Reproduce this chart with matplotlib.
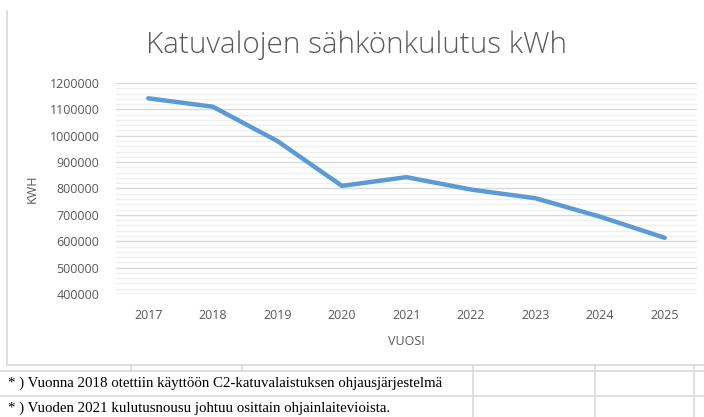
import matplotlib
matplotlib.use("Agg")
from matplotlib import pyplot as plt
from matplotlib.ticker import MultipleLocator, FuncFormatter

# data
YEARS = ['2017', '2018', '2019', '2020', '2021', '2022', '2023', '2024', '2025']
KWH = [1142000, 1110000, 980000, 810000, 843000, 796000, 763000, 693000, 613000]
TITLE = 'Katuvalojen sähkönkulutus kWh'
NOTES = [
    '* ) Vuonna 2018 otettiin käyttöön C2-katuvalaistuksen ohjausjärjestelmä',
    '* ) Vuoden 2021 kulutusnousu johtuu osittain ohjainlaitevioista.',
]

W, H = 704, 417
TXT = '#595959'
GRID = '#D9D9D9'

plt.rcParams['font.family'] = ['Open Sans', 'DejaVu Sans']

fig = plt.figure(figsize=(W / 100, H / 100), dpi=100)

# overlay in pixel coordinates for the chart frame and the sheet grid below it
bg = fig.add_axes([0, 0, 1, 1])
bg.set_xlim(0, W)
bg.set_ylim(H, 0)
bg.axis('off')
bg.plot([6.5, 6.5], [11, 365], color=GRID, lw=1.2)
bg.plot([6.5, W], [365, 365], color=GRID, lw=1.2)
bg.plot([0, W], [370.5, 370.5], color=GRID, lw=1.2)
bg.plot([0, W], [395.5, 395.5], color=GRID, lw=1.2)
for x in (130.5, 241.5):
    bg.plot([x, x], [365, 370.5], color=GRID, lw=1.2)
for x in (472.5, 594.5, 693.5):
    bg.plot([x, x], [365, H], color=GRID, lw=1.2)
for i, note in enumerate(NOTES):
    bg.text(8, 383 + 25.5 * i, note, family='Liberation Serif', fontsize=10.7,
            color='black', va='center', ha='left')

ax = fig.add_axes([116 / W, 1 - 294 / H, (697 - 116) / W, (294 - 83) / H])
x = range(len(YEARS))
ax.plot(x, KWH, color='#5B9BD5', lw=3.2, solid_capstyle='round', solid_joinstyle='round', zorder=3)
ax.set_xlim(-0.5, len(YEARS) - 0.5)
ax.set_ylim(400000, 1200000)
ax.yaxis.set_major_locator(MultipleLocator(100000))
ax.yaxis.set_minor_locator(MultipleLocator(20000))
ax.yaxis.set_major_formatter(FuncFormatter(lambda v, p: f'{v:.0f}'))
ax.set_xticks(list(x))
ax.set_xticklabels(YEARS)
ax.grid(which='major', axis='y', color=GRID, lw=1.0)
ax.grid(which='minor', axis='y', color='#EFEFEF', lw=0.9)
ax.set_axisbelow(True)
for s in ax.spines.values():
    s.set_visible(False)
ax.tick_params(which='both', length=0, colors=TXT, labelsize=9)
ax.tick_params(axis='y', pad=12)
ax.tick_params(axis='x', pad=11)
ax.set_xlabel('VUOSI', color=TXT, fontsize=9, labelpad=9)
ax.set_ylabel('KWH', color=TXT, fontsize=9)
ax.yaxis.set_label_coords((39 - 116) / 581, 0.5)

fig.text(356 / W, 1 - 45 / H, TITLE, ha='center', va='center', fontsize=21.3,
         color=TXT, fontweight='light')

fig.savefig('out.png', dpi=100)
